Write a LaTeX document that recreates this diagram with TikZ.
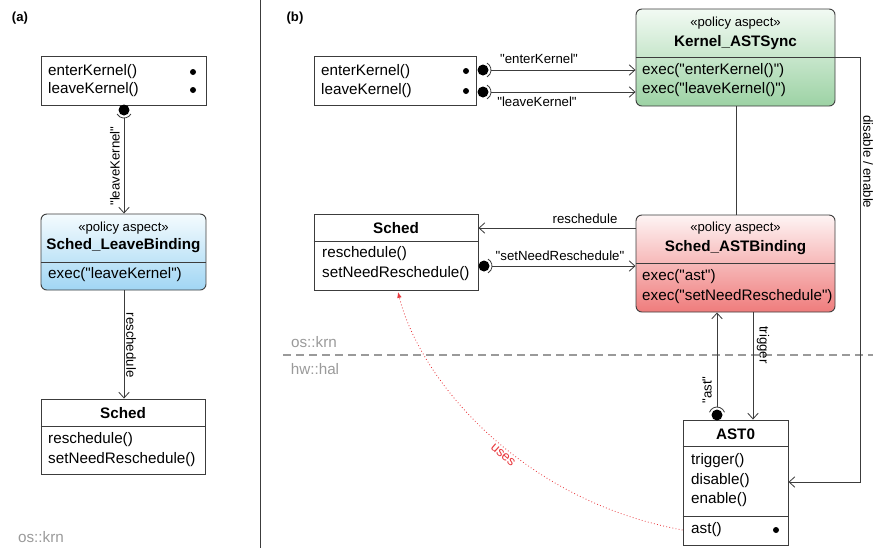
\documentclass[tikz,border=0pt]{standalone}
\usepackage{fontspec}
\setmainfont{Liberation Sans}
\newfontfamily\uifont{Liberation Sans}
\usetikzlibrary{arrows.meta,fit}

\definecolor{edge}{HTML}{3C3C3C}
\definecolor{layergray}{HTML}{9A9A9A}
\definecolor{syncgreen}{HTML}{9CD2A4}
\definecolor{synctop}{HTML}{F2FAF3}
\definecolor{bindred}{HTML}{EF7C7C}
\definecolor{bindtop}{HTML}{FEF4F4}
\definecolor{leaveblue}{HTML}{A1D6F4}
\definecolor{leavetop}{HTML}{F4FBFE}
\definecolor{usesred}{HTML}{E8383D}

\tikzset{
  classbox/.style={draw=edge, line width=0.8pt, fill=white, inner sep=0pt},
  aspectbox/.style={classbox, rounded corners=5pt},
  member/.style={anchor=west, inner sep=0pt, font=\uifont\fontsize{13}{15}\selectfont},
  title/.style={inner sep=0pt, font=\uifont\fontsize{13}{15}\selectfont\bfseries},
  stereo/.style={inner sep=0pt, font=\uifont\fontsize{11.2}{13}\selectfont},
  lbl/.style={inner sep=0pt, font=\uifont\fontsize{11.3}{13}\selectfont},
  layer/.style={inner sep=0pt, text=layergray, font=\uifont\fontsize{13}{15}\selectfont},
  panel/.style={inner sep=0pt, font=\uifont\fontsize{11.2}{13}\selectfont\bfseries},
  conn/.style={draw=edge, line width=0.7pt, -{Straight Barb[length=5pt,width=9pt]}},
  socket/.style={draw=edge, line width=0.7pt},
  ball/.style={circle, fill=black, inner sep=0pt, minimum size=0.33cm},
  dot/.style={circle, fill=black, inner sep=0pt, minimum size=0.18cm},
}

\begin{document}
\begin{tikzpicture}[x=0.03cm, y=-0.03cm]

\useasboundingbox (0,0) rectangle (873,548);

% panel separator
\draw [edge, line width=0.7pt] (260,0) -- (260,548);

\node [panel] (pa) at (20,18) {(a)};
\node [panel] (pb) at (295,18) {(b)};

%%%%% (a)

\node [classbox, fit={(41,56) (206,105)}] (ifaceA) {};
\node [member] (enterA) at (48,72) {enterKernel()};
\node [member] (leaveA) at (48,90) {leaveKernel()};
\node [dot] (enterDotA) at (193,72) {};
\node [dot] (leaveDotA) at (193,90) {};
\node [ball] (ballA) at (124,110) {};
\draw [socket] ([shift={(30:8)}]ballA.center) arc [start angle=30, end angle=150, radius=8];
\coordinate (sockA) at (124,118);

\node [aspectbox, top color=leavetop, bottom color=leaveblue, fit={(41,214) (206,290)}] (leaveBind) {};
\node [stereo] (leaveStereo) at (123.5,228) {«policy aspect»};
\node [title] (leaveTitle) at (123.5,246) {Sched\_LeaveBinding};
\draw [edge, line width=0.8pt] (leaveBind.west |- 0,262) -- (leaveBind.east |- 0,262);
\node [member] (leaveExec) at (48,275) {exec("leaveKernel")};

\node [classbox, fit={(41,399) (205,474)}] (schedA) {};
\node [title] (schedTitleA) at (123,413) {Sched};
\draw [edge, line width=0.8pt] (schedA.west |- 0,426) -- (schedA.east |- 0,426);
\node [member] (reschedA) at (48,440) {reschedule()};
\node [member] (needA) at (48,460) {setNeedReschedule()};

\draw [conn] (sockA) -- (sockA |- leaveBind.north);
\node [lbl, rotate=90] (leaveLbl) at (115,166) {"leaveKernel"};
\draw [conn] (leaveBind.south -| sockA) -- (schedA.north -| sockA);
\node [lbl, rotate=-90] (reschedLblA) at (131,345) {reschedule};

\node [layer] (krnA) at (41,537) {os::krn};

%%%%% (b)

\node [classbox, fit={(314,56) (476,105)}] (ifaceB) {};
\node [member] (enterB) at (321,72) {enterKernel()};
\node [member] (leaveB) at (321,91) {leaveKernel()};
\node [dot] (enterDotB) at (466,71) {};
\node [dot] (leaveDotB) at (466,91) {};
\node [ball] (ballEnter) at (483,70) {};
\node [ball] (ballLeave) at (483,92) {};
\draw [socket] ([shift={(-60:8)}]ballEnter.center) arc [start angle=-60, end angle=60, radius=8];
\draw [socket] ([shift={(-60:8)}]ballLeave.center) arc [start angle=-60, end angle=60, radius=8];
\coordinate (sockEnter) at (491,70);
\coordinate (sockLeave) at (491,92);

\node [aspectbox, top color=synctop, bottom color=syncgreen, fit={(636,9) (835,106)}] (astSync) {};
\node [stereo] (syncStereo) at (735.5,23) {«policy aspect»};
\node [title] (syncTitle) at (735.5,43) {Kernel\_ASTSync};
\draw [edge, line width=0.8pt] (astSync.west |- 0,57) -- (astSync.east |- 0,57);
\node [member] (execEnter) at (642,71) {exec("enterKernel()")};
\node [member] (execLeave) at (642,90) {exec("leaveKernel()")};

\draw [conn] (sockEnter) -- (sockEnter -| astSync.west);
\draw [conn] (sockLeave) -- (sockLeave -| astSync.west);
\node [lbl] (enterLbl) at (539,59) {"enterKernel"};
\node [lbl] (leaveLblB) at (537,102) {"leaveKernel"};

\node [classbox, fit={(314,214) (478,290)}] (schedB) {};
\node [title] (schedTitleB) at (396,228) {Sched};
\draw [edge, line width=0.8pt] (schedB.west |- 0,241) -- (schedB.east |- 0,241);
\node [member] (reschedB) at (322,254) {reschedule()};
\node [member] (needB) at (322,274) {setNeedReschedule()};

\node [aspectbox, top color=bindtop, bottom color=bindred, fit={(636,215) (835,312)}] (astBind) {};
\node [stereo] (bindStereo) at (735.5,228) {«policy aspect»};
\node [title] (bindTitle) at (735.5,248) {Sched\_ASTBinding};
\draw [edge, line width=0.8pt] (astBind.west |- 0,263) -- (astBind.east |- 0,263);
\node [member] (execAst) at (642,277) {exec("ast")};
\node [member] (execNeed) at (642,297) {exec("setNeedReschedule")};

\draw [edge, line width=0.7pt] (astSync.south -| 736,0) -- (astBind.north -| 736,0);

\coordinate (reschedFrom) at (636,228);
\draw [conn] (reschedFrom) -- (reschedFrom -| schedB.east);
\node [lbl] (reschedLblB) at (585,219) {reschedule};

\node [ball] (ballNeed) at (484,266) {};
\draw [socket] ([shift={(-60:8)}]ballNeed.center) arc [start angle=-60, end angle=60, radius=8];
\coordinate (sockNeed) at (492,266);
\draw [conn] (sockNeed) -- (sockNeed -| astBind.west);
\node [lbl] (needLbl) at (560,256) {"setNeedReschedule"};

% layer boundary
\draw [layergray, line width=1.7pt, dash pattern=on 6.8pt off 4.3pt] (283,355) -- (873,355);
\node [layer] (krnB) at (314,342) {os::krn};
\node [layer] (halB) at (315,369) {hw::hal};

\node [classbox, fit={(683,420) (788,545)}] (ast0) {};
\node [title] (ast0Title) at (735.5,434) {AST0};
\draw [edge, line width=0.8pt] (ast0.west |- 0,446) -- (ast0.east |- 0,446);
\node [member] (trigOp) at (691,461) {trigger()};
\node [member] (disOp) at (691,481) {disable()};
\node [member] (enOp) at (691,500) {enable()};
\draw [edge, line width=0.8pt] (ast0.west |- 0,516) -- (ast0.east |- 0,516);
\node [member] (astOp) at (691,530) {ast()};
\node [dot] (astDot) at (776,530) {};

% ast / trigger
\node [ball] (ballAst) at (717,415) {};
\draw [socket] ([shift={(200:8)}]ballAst.center) arc [start angle=200, end angle=340, radius=8];
\coordinate (sockAst) at (717,407);
\draw [conn] (sockAst) -- (sockAst |- astBind.south);
\node [lbl, rotate=90] (astLbl) at (707,390) {"ast"};

\coordinate (trigFrom) at (753,312);
\draw [conn] (trigFrom) -- (trigFrom |- ast0.north);
\node [lbl, rotate=-90] (trigLbl) at (763,345) {trigger};

% disable / enable
\draw [conn] (astSync.east |- 0,57) -- (860,57) -- (860,482) -- (ast0.east |- 0,482);
\node [lbl, rotate=-90] (disLbl) at (868,162) {disable / enable};

% uses
\draw [usesred, line width=0.7pt, dotted, -{Latex[length=5pt,width=4pt]}]
  (ast0.west |- 0,530) .. controls (520,500) and (420,380) .. (398,292);
\node [lbl, text=usesred, rotate=-41] (usesLbl) at (503,455) {uses};

\end{tikzpicture}
\end{document}
